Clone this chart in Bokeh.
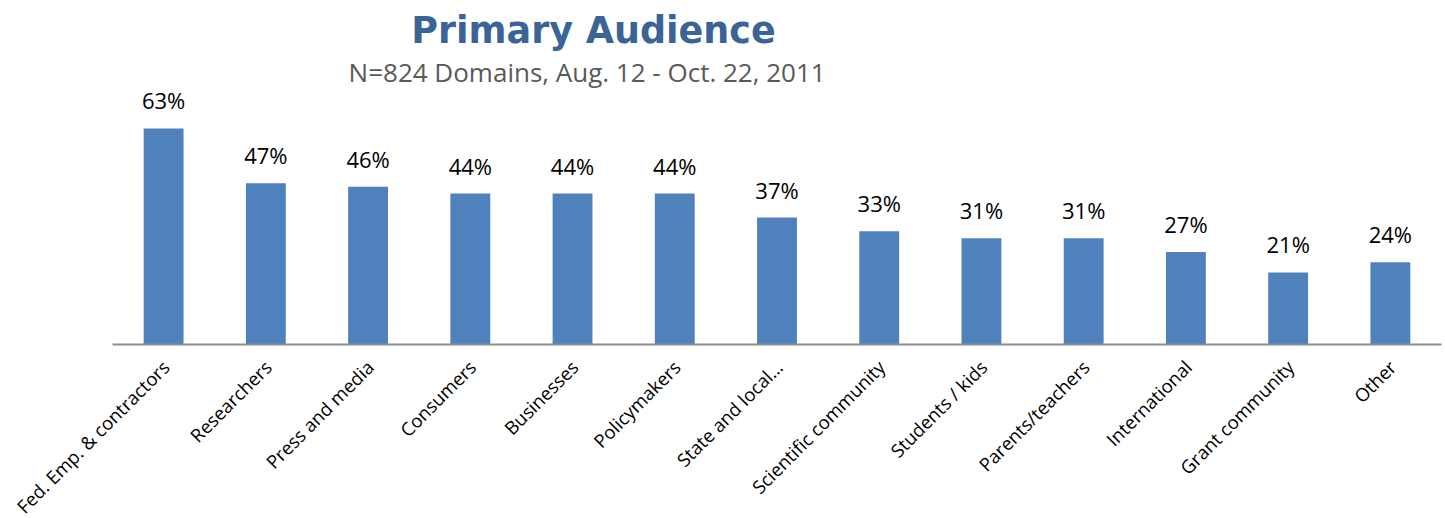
from bokeh.plotting import figure
from bokeh.models import Range1d, ColumnDataSource
from bokeh.core.properties import value
from bokeh.embed import file_html
from bokeh.resources import INLINE
import math

categories = ["Fed. Emp. & contractors", "Researchers", "Press and media", "Consumers",
              "Businesses", "Policymakers", "State and local…", "Scientific community",
              "Students / kids", "Parents/teachers", "International", "Grant community", "Other"]
values = [63, 47, 46, 44, 44, 44, 37, 33, 31, 31, 27, 21, 24]
title_text = "Primary Audience"
subtitle_text = "N=824 Domains,  Aug. 12 - Oct. 22, 2011"

W, H = 1444, 517
PLOT_LEFT = 112      # pixel column where the category axis starts
PX_PER_CAT = 102.23  # pixels per category slot
PX_PER_UNIT = 3.43   # pixels per percentage point
BASE = 344           # pixel row of the axis line

n = len(categories)
xs = [i + 0.5 for i in range(n)]
labels = [f"{v}%" for v in values]
src = ColumnDataSource(dict(x=xs, top=values, label=labels, cat=categories,
                            zero=[0] * n))

p = figure(width=W, height=H, output_backend="svg", toolbar_location=None,
           x_range=Range1d(-PLOT_LEFT / PX_PER_CAT, (W - PLOT_LEFT) / PX_PER_CAT),
           y_range=Range1d(-(H - BASE) / PX_PER_UNIT, BASE / PX_PER_UNIT))
p.min_border = 0
p.outline_line_color = None
p.xgrid.visible = False
p.ygrid.visible = False
p.xaxis.visible = False
p.yaxis.visible = False
p.background_fill_color = "white"
p.border_fill_color = "white"

p.vbar(x="x", top="top", width=0.39, bottom=0, source=src, fill_color="#4F81BD",
       line_color=None)
p.text(x="x", y="top", text="label", source=src, text_align="center",
       text_baseline="alphabetic", y_offset=-28, text_font=value("Open Sans"),
       text_font_size="22px", text_color="#000000")

# category axis line
p.segment(x0=[0], y0=[0], x1=[n], y1=[0], line_color="#8C8C8C", line_width=2)

# rotated category labels
p.text(x="x", y="zero", text="cat", source=src, angle=math.pi / 4,
       text_align="right", text_baseline="middle", x_offset=2, y_offset=19,
       text_font=value("Open Sans"), text_font_size="18.5px", text_color="#000000")

# title / subtitle positioned in data units
p.text(x=[(593 - PLOT_LEFT) / PX_PER_CAT], y=[(BASE - 30) / PX_PER_UNIT], text=[title_text],
       text_align="center", text_baseline="alphabetic", text_font=value("DejaVu Sans"),
       text_font_style="bold", text_font_size="36.5px", text_color="#3A6496")
p.text(x=[(590 - PLOT_LEFT) / PX_PER_CAT], y=[(BASE - 71) / PX_PER_UNIT], text=[subtitle_text],
       text_align="center", text_baseline="alphabetic", text_font=value("Open Sans"),
       text_font_size="26px", text_color="#595959")

open("out.html", "w").write(file_html(p, INLINE))
